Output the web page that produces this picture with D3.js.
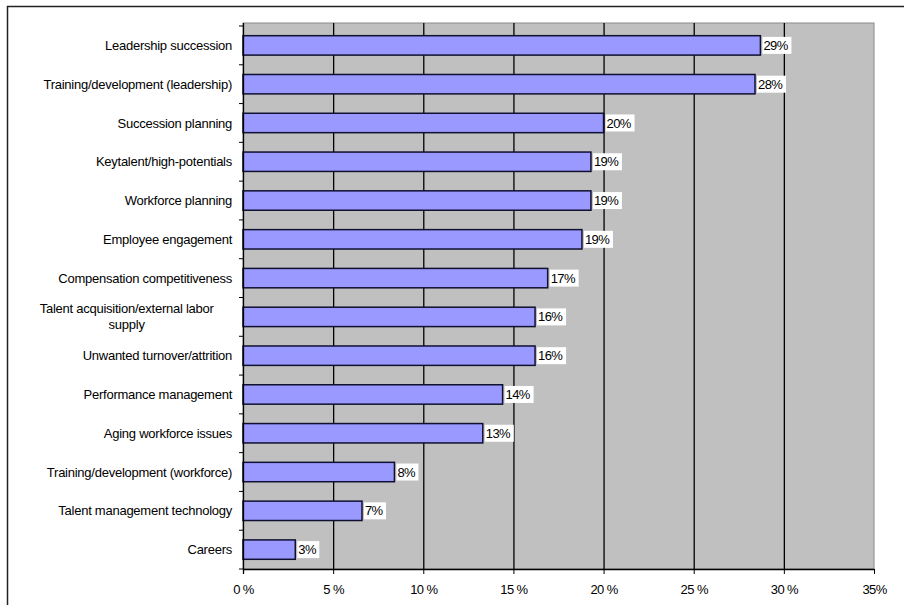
<!DOCTYPE html>
<html>
<head>
<meta charset="utf-8">
<script src="https://cdn.jsdelivr.net/npm/d3@7"></script>
<style>
  body { margin: 0; background: #fff; }
  svg text { font-family: "Liberation Sans", Arial, sans-serif; }
</style>
</head>
<body>
<svg id="chart" width="904" height="605"></svg>
<script>
const categories = [
  "Leadership succession",
  "Training/development (leadership)",
  "Succession planning",
  "Keytalent/high-potentials",
  "Workforce planning",
  "Employee engagement",
  "Compensation competitiveness",
  "Talent acquisition/external labor|supply",
  "Unwanted turnover/attrition",
  "Performance management",
  "Aging workforce issues",
  "Training/development (workforce)",
  "Talent management technology",
  "Careers"
];
const values = [28.7, 28.4, 20.0, 19.3, 19.3, 18.8, 16.9, 16.2, 16.2, 14.4, 13.3, 8.4, 6.6, 2.9];
const tickValues = [0, 5, 10, 15, 20, 25, 30, 35];
const tickLabels = ["0 %", "5 %", "10 %", "15 %", "20 %", "25 %", "30 %", "35%"];

const svg = d3.select("#chart");

// outer frame (runs past the right / bottom edge)
svg.append("rect")
  .attr("x", 7.5).attr("y", 6.5)
  .attr("width", 1000).attr("height", 1000)
  .attr("fill", "none").attr("stroke", "#222").attr("stroke-width", 1.5);

const plotLeft = 243, plotRight = 874, plotTop = 26, plotBottom = 569;

const x = d3.scaleLinear().domain([0, 35]).range([plotLeft, plotRight]);
const y = d3.scaleBand().domain(categories).range([plotTop, plotBottom]).paddingInner(0.5).paddingOuter(0.25);

// plot area
svg.append("rect")
  .attr("x", plotLeft).attr("y", plotTop - 3)
  .attr("width", plotRight - plotLeft).attr("height", plotBottom - plotTop + 3)
  .attr("fill", "#c0c0c0").attr("stroke", "#8a8a8a").attr("stroke-width", 1);

// grid lines
svg.append("g").selectAll("line")
  .data(tickValues.filter(v => v > 0 && v < 35))
  .join("line")
  .attr("x1", d => x(d) + 0.5).attr("x2", d => x(d) + 0.5)
  .attr("y1", plotTop - 3).attr("y2", plotBottom)
  .attr("stroke", "#000").attr("stroke-width", 1.3);

// bars
svg.append("g").selectAll("rect")
  .data(values)
  .join("rect")
  .attr("x", plotLeft)
  .attr("y", (d, i) => y(categories[i]))
  .attr("width", d => x(d) - plotLeft)
  .attr("height", y.bandwidth())
  .attr("fill", "#9999ff")
  .attr("stroke", "#101030").attr("stroke-width", 1.5);

// value labels with white boxes
const vl = svg.append("g").selectAll("g")
  .data(values)
  .join("g")
  .attr("transform", (d, i) => `translate(${x(d) + 2},${y(categories[i]) + y.bandwidth() / 2})`);
vl.append("rect")
  .attr("x", 0).attr("y", -8.5)
  .attr("width", d => (Math.round(d) >= 10 ? 29 : 22)).attr("height", 17)
  .attr("fill", "#fff");
vl.append("text")
  .attr("x", 1).attr("dy", "0.35em")
  .attr("font-size", 13).attr("fill", "#000")
  .attr("letter-spacing", -0.6)
  .text(d => Math.round(d) + "%");

// y axis line and ticks between categories
svg.append("line")
  .attr("x1", plotLeft + 0.5).attr("x2", plotLeft + 0.5)
  .attr("y1", plotTop - 3).attr("y2", plotBottom + 5)
  .attr("stroke", "#000").attr("stroke-width", 1.3);
const step = (plotBottom - plotTop) / categories.length;
svg.append("g").selectAll("line")
  .data(d3.range(categories.length + 1))
  .join("line")
  .attr("x1", plotLeft - 4).attr("x2", plotLeft)
  .attr("y1", i => plotTop + i * step).attr("y2", i => plotTop + i * step)
  .attr("stroke", "#000");

// category labels
const labelRight = 232;
categories.forEach((c, i) => {
  const lines = c.split("|");
  const cy = y(c) + y.bandwidth() / 2;
  const t = svg.append("text")
    .attr("font-size", 13).attr("fill", "#000")
    .attr("letter-spacing", -0.25);
  lines.forEach((ln, j) => {
    t.append("tspan")
      .attr("y", cy + (j - (lines.length - 1) / 2) * 16)
      .attr("dy", "0.35em")
      .text(ln);
  });
  if (lines.length === 1) {
    t.attr("text-anchor", "end").selectAll("tspan").attr("x", labelRight);
  } else {
    const w = t.node().getBBox().width;
    t.attr("text-anchor", "middle").selectAll("tspan").attr("x", labelRight - w / 2);
  }
});

// x axis
svg.append("line")
  .attr("x1", plotLeft).attr("x2", plotRight + 0.5)
  .attr("y1", plotBottom + 0.5).attr("y2", plotBottom + 0.5)
  .attr("stroke", "#000").attr("stroke-width", 1.3);
const xt = svg.append("g").selectAll("g")
  .data(tickValues)
  .join("g")
  .attr("transform", d => `translate(${x(d) + 0.5},${plotBottom})`);
xt.append("line").attr("y1", 0).attr("y2", 5).attr("stroke", "#000");
xt.append("text")
  .attr("y", 25).attr("text-anchor", "middle")
  .attr("font-size", 13).attr("fill", "#000")
  .attr("letter-spacing", -0.6)
  .text((d, i) => tickLabels[i]);
</script>
</body>
</html>
